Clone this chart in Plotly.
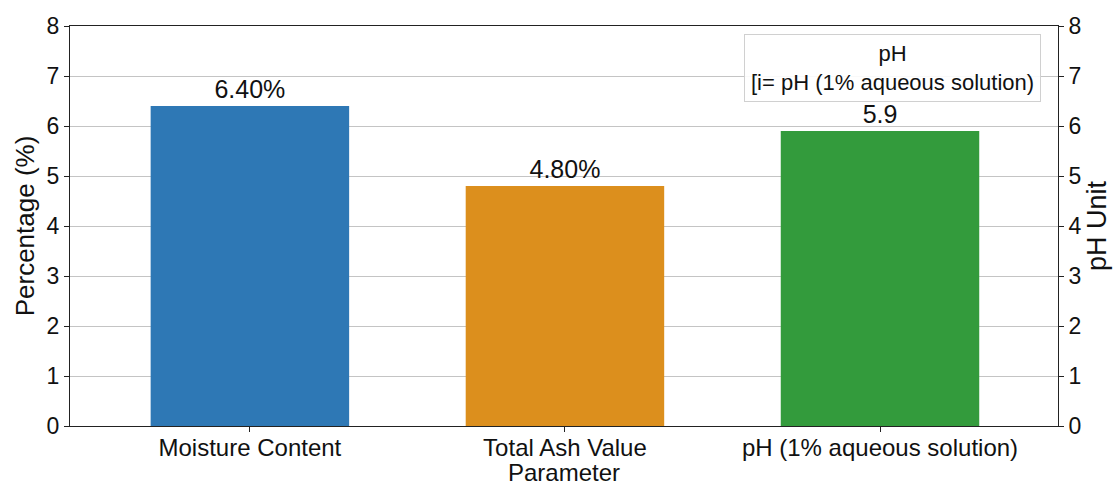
import plotly.graph_objects as go

# Quality parameters of the sample
categories = ["Moisture Content", "Total Ash Value", "pH (1% aqueous solution)"]
percent_values = [6.4, 4.8]          # % based parameters (left axis)
percent_labels = ["6.40%", "4.80%"]
ph_value = [5.9]                     # pH unit (right axis)
ph_labels = ["5.9"]
y_ticks = [0, 1, 2, 3, 4, 5, 6, 7, 8]

colors = ["#2e78b5", "#dc8f1d", "#339b3c"]
FONT = "Liberation Sans, Arial, sans-serif"

fig = go.Figure()

fig.add_trace(go.Bar(
    x=[0, 1], y=percent_values, width=0.63,
    marker=dict(color=colors[:2], line=dict(width=0)),
    text=percent_labels, textposition="outside", cliponaxis=False,
    textfont=dict(size=25, color="#111"),
    showlegend=False,
))
fig.add_trace(go.Bar(
    x=[2], y=ph_value, width=0.63, yaxis="y2",
    marker=dict(color=colors[2], line=dict(width=0)),
    text=ph_labels, textposition="outside", cliponaxis=False,
    textfont=dict(size=25, color="#111"),
    showlegend=False,
))

fig.update_layout(
    width=1115, height=489,
    margin=dict(l=70, r=57, t=26, b=63, autoexpand=False),
    paper_bgcolor="white", plot_bgcolor="white",
    font=dict(family=FONT, color="#111"),
    barmode="overlay",
    xaxis=dict(
        range=[-0.571, 2.565], tickvals=[0, 1, 2], ticktext=categories,
        tickfont=dict(size=24), ticks="outside", ticklen=5, tickcolor="#222",
        ticklabelstandoff=-5,
        showline=True, linecolor="#222", linewidth=1, mirror=True,
        showgrid=False, zeroline=False, automargin=False,
    ),
    yaxis=dict(
        range=[0, 8], tickvals=y_ticks, tickfont=dict(size=23),
        ticks="outside", ticklen=5, tickcolor="#222",
        showline=True, linecolor="#222", linewidth=1, automargin=False,
        showgrid=True, gridcolor="#c4c4c4", gridwidth=1, zeroline=False,
        title=dict(text="Percentage (%)", font=dict(size=26), standoff=4),
    ),
    yaxis2=dict(
        range=[0, 8], tickvals=y_ticks, tickfont=dict(size=23),
        overlaying="y", side="right", automargin=False,
        ticks="outside", ticklen=5, tickcolor="#222",
        showline=True, linecolor="#222", linewidth=1,
        showgrid=False, zeroline=False,
        title=dict(text="pH Unit", font=dict(size=27), standoff=2),
    ),
)

# x-axis title placed just under the wrapped tick labels
fig.add_annotation(
    xref="paper", yref="paper", x=0.5, y=-0.115,
    xanchor="center", yanchor="middle",
    text="Parameter", showarrow=False,
    font=dict(size=24, color="#111"),
)

fig.add_annotation(
    xref="paper", yref="paper", x=0.832, y=0.895,
    xanchor="center", yanchor="middle",
    text="pH<br>[i= pH (1% aqueous solution)",
    showarrow=False, align="center",
    font=dict(size=22, color="#111"),
    bgcolor="rgba(255,255,255,0.9)", bordercolor="#d0d0d0", borderwidth=1,
    borderpad=6,
)

fig.write_html("out.html")
